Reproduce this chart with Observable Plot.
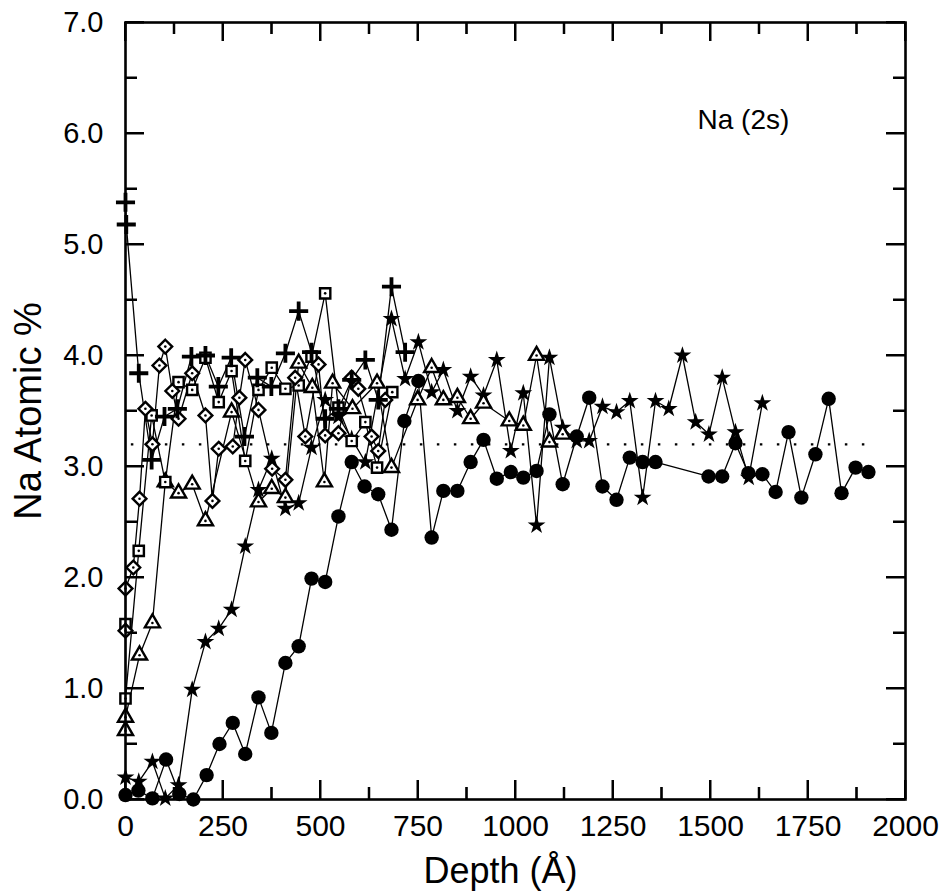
<!DOCTYPE html>
<html><head><meta charset="utf-8">
<script src="https://cdn.jsdelivr.net/npm/d3@7"></script>
<script src="https://cdn.jsdelivr.net/npm/@observablehq/plot@0.6"></script>
<style>body{margin:0;background:#fff} #chart svg{display:block}</style>
</head><body><div id="chart"></div>
<script>
// ---- data (depth in Å, Na atomic %) ----
const circleDepth = [0,33,69,104,138,174,208,241,275,307,341,374,410,444,477,512,546,580,613,648,682,715,751,785,815,851,885,918,952,988,1020,1054,1087,1121,1157,1189,1223,1259,1293,1326,1359,1495,1530,1564,1597,1633,1667,1700,1733,1769,1803,1836,1872,1905];
const circleNa = [0.04,0.08,0.01,0.36,0.05,0.0,0.22,0.50,0.69,0.41,0.92,0.60,1.23,1.38,1.99,1.96,2.55,3.04,2.82,2.75,2.43,3.41,3.77,2.36,2.78,2.78,3.04,3.24,2.89,2.95,2.90,2.96,3.47,2.84,3.27,3.62,2.82,2.70,3.08,3.04,3.04,2.91,2.91,3.21,2.94,2.93,2.77,3.31,2.72,3.11,3.61,2.76,2.99,2.95];

const starDepth = [0,34,69,102,136,171,205,239,272,307,341,375,410,444,477,512,546,580,615,682,717,751,785,815,851,885,918,952,988,1020,1054,1087,1121,1157,1189,1223,1259,1293,1326,1359,1393,1428,1462,1496,1530,1564,1598,1633];
const starNa = [0.2,0.16,0.34,0.01,0.13,0.99,1.42,1.54,1.71,2.28,2.79,3.07,2.62,2.67,3.17,3.6,3.45,3.25,3.04,4.33,3.79,4.12,3.67,3.87,3.5,3.81,3.64,3.96,3.14,3.66,2.47,3.98,3.35,3.23,3.23,3.54,3.49,3.59,2.72,3.59,3.52,4.0,3.4,3.29,3.8,3.31,2.9,3.57];

const triangleDepth = [0,0,36,69,102,136,171,205,272,341,375,410,444,479,510,531,582,645,682,749,785,815,851,885,918,984,1020,1054,1087,1121];
const triangleNa = [0.62,0.74,1.3,1.59,2.86,2.76,2.84,2.51,3.49,2.68,2.8,2.72,3.93,3.71,2.86,3.75,3.52,3.75,2.99,3.6,3.89,3.6,3.62,3.43,3.57,3.41,3.37,4.0,3.22,3.29];

const squareDepth = [0,0,34,67,102,136,171,205,239,272,307,341,375,410,444,477,512,546,580,615,645,684];
const squareNa = [1.58,0.91,2.24,3.46,2.86,3.76,3.69,3.98,3.58,3.86,3.05,3.69,3.89,3.7,3.73,3.99,4.56,3.53,3.23,3.4,2.99,3.67];

const diamondDepth = [0,0,20,36,51,69,87,102,120,136,171,205,223,239,275,292,307,341,376,410,435,461,495,512,546,580,597,631,648,666];
const diamondNa = [1.52,1.9,2.09,2.71,3.52,3.2,3.91,4.08,3.68,3.43,3.84,3.46,2.69,3.16,3.18,3.62,3.96,3.51,2.98,2.88,3.8,3.27,3.92,3.28,3.3,3.8,3.7,3.27,3.14,3.6];

const plusDepth = [0,2,34,67,100,133,169,205,238,271,305,338,374,410,444,477,512,546,580,615,648,682,717];
const plusNa = [5.38,5.18,3.84,3.06,3.45,3.52,3.99,4.0,3.72,3.98,3.27,3.8,3.72,4.02,4.4,4.03,3.43,3.52,3.78,3.96,3.6,4.62,4.03];

const refLevel = 3.2;           // dotted bulk level
const refRange = [15, 1900];
const xMajor = [0,250,500,750,1000,1250,1500,1750,2000];
const xMinor = [125,375,625,875,1125,1375,1625,1875];
const yMajor = [0,1,2,3,4,5,6,7];
const yMinor = [0.5,1.5,2.5,3.5,4.5,5.5,6.5];
const yTitle = "Na Atomic %";
const xTitle = "Depth (Å)";
const panelLabel = "Na (2s)";

// ---- layout ----
const W = 940, H = 894, mL = 125, mR = 35, mT = 22, mB = 95;
const xDomain = [0, 2000], yDomain = [0, 7];
const ux = (xDomain[1] - xDomain[0]) / (W - mL - mR);   // data units per px
const uy = (yDomain[1] - yDomain[0]) / (H - mT - mB);
const majorLen = 19, minorLen = 12;

// ---- build ----
const rows = (xs, ys) => xs.map((d, i) => ({depth: d, na: ys[i]}));
const circles = rows(circleDepth, circleNa);
const stars = rows(starDepth, starNa);
const triangles = rows(triangleDepth, triangleNa);
const squares = rows(squareDepth, squareNa);
const diamonds = rows(diamondDepth, diamondNa);
const pluses = rows(plusDepth, plusNa);

const font = "Liberation Sans, Arial, Helvetica, sans-serif";
const ln = {x: "depth", y: "na", stroke: "black", strokeWidth: 1.3};
const P = {x: "depth", y: "na"};
const openSym = (sym, r) => ({...P, symbol: sym, r, fill: "white", stroke: "black", strokeWidth: 2.4});
const innerDot = {...P, r: 1.3, fill: "black"};
const tk = {stroke: "black", strokeWidth: 2};

const ticksX = (vals, len) => [
  Plot.ruleX(vals, {...tk, y1: yDomain[0], y2: yDomain[0] + len * uy}),
  Plot.ruleX(vals, {...tk, y1: yDomain[1], y2: yDomain[1] - len * uy})
];
const ticksY = (vals, len) => [
  Plot.ruleY(vals, {...tk, x1: xDomain[0], x2: xDomain[0] + len * ux}),
  Plot.ruleY(vals, {...tk, x1: xDomain[1], x2: xDomain[1] - len * ux})
];

const chart = Plot.plot({
  width: W, height: H,
  marginLeft: mL, marginRight: mR, marginTop: mT, marginBottom: mB,
  x: {domain: xDomain},
  y: {domain: yDomain},
  style: {fontFamily: font},
  marks: [
    ...ticksX(xMajor, majorLen),
    ...ticksX(xMinor, minorLen),
    ...ticksY(yMajor, majorLen),
    ...ticksY(yMinor, minorLen),
    Plot.ruleY([refLevel], {x1: refRange[0], x2: refRange[1], stroke: "black", strokeWidth: 2.2, strokeDasharray: "2.5,14.5"}),
    Plot.line(circles, ln),
    Plot.line(stars, ln),
    Plot.line(triangles, ln),
    Plot.line(squares, ln),
    Plot.line(diamonds, ln),
    Plot.line(pluses, ln),
    Plot.dot(circles, {...P, symbol: "circle", r: 7.2, fill: "black"}),
    Plot.dot(stars, {...P, symbol: "star", r: 5.6, fill: "black"}),
    Plot.dot(triangles, openSym("triangle", 5.6)),
    Plot.dot(triangles, innerDot),
    Plot.dot(squares, openSym("square", 5.8)),
    Plot.dot(squares, innerDot),
    Plot.dot(diamonds, openSym("diamond2", 6.2)),
    Plot.dot(diamonds, innerDot),
    Plot.dot(pluses, {...P, symbol: "plus", r: 6.2, stroke: "black", strokeWidth: 3.8, fill: "none"}),
    Plot.frame({stroke: "black", strokeWidth: 2.6}),
    Plot.axisX(xMajor, {anchor: "bottom", tickSize: 0, tickPadding: 15, fontSize: 30, label: null, tickFormat: d => String(d)}),
    Plot.axisY(yMajor, {anchor: "left", tickSize: 0, tickPadding: 22, fontSize: 29, label: null, tickFormat: d => d.toFixed(1)}),
    Plot.text([yTitle], {frameAnchor: "left", dx: -97, rotate: -90, fontSize: 38, textAnchor: "middle", lineAnchor: "middle"}),
    Plot.text([xTitle], {frameAnchor: "bottom", dx: -15, dy: 72, fontSize: 36, textAnchor: "middle", lineAnchor: "middle"}),
    Plot.text([panelLabel], {frameAnchor: "top-right", dx: -208, dy: 98, textAnchor: "start", lineAnchor: "middle", fontSize: 28})
  ]
});
document.getElementById("chart").appendChild(chart);

// also re-draw the inward ticks on top, using the plot's own scale domains/ranges
try {
  const sx = chart.scale("x"), sy = chart.scale("y");
  const fx = d3.scaleLinear(sx.domain, sx.range);
  const fy = d3.scaleLinear(sy.domain, sy.range);
  const [x0, x1] = [fx(xDomain[0]), fx(xDomain[1])];
  const [y0, y1] = [fy(yDomain[0]), fy(yDomain[1])];
  const g = d3.select(chart).append("g").attr("stroke", "black").attr("stroke-width", 2).attr("fill", "none");
  const addX = (vals, len) => vals.forEach(v => {
    const px = fx(v);
    g.append("path").attr("d", `M${px},${y0}V${y0 - len}`);
    g.append("path").attr("d", `M${px},${y1}V${y1 + len}`);
  });
  const addY = (vals, len) => vals.forEach(v => {
    const py = fy(v);
    g.append("path").attr("d", `M${x0},${py}H${x0 + len}`);
    g.append("path").attr("d", `M${x1},${py}H${x1 - len}`);
  });
  addX(xMajor, majorLen); addX(xMinor, minorLen);
  addY(yMajor, majorLen); addY(yMinor, minorLen);
} catch (e) {}
</script>
</body></html>
